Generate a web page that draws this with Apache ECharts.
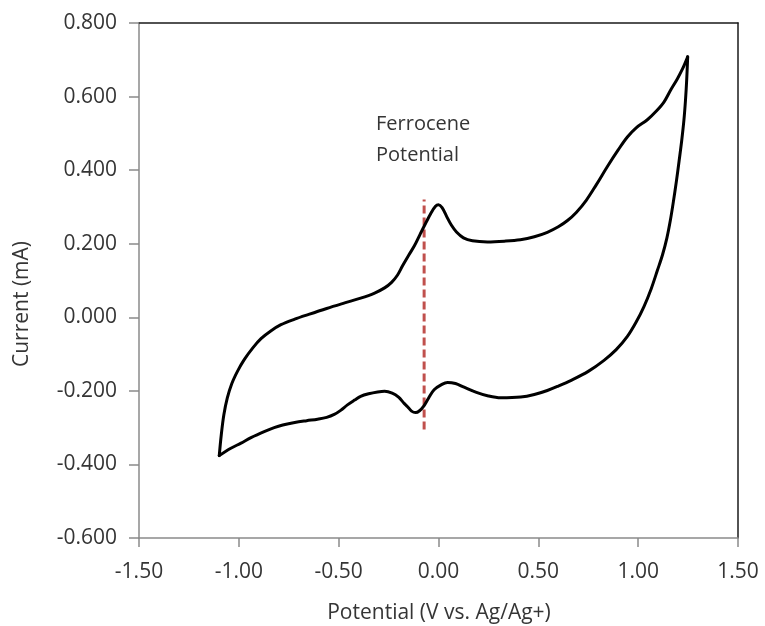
<!DOCTYPE html>
<html>
<head>
<meta charset="utf-8">
<script src="https://cdn.jsdelivr.net/npm/echarts@6/dist/echarts.min.js"></script>
<style>
  html, body { margin: 0; padding: 0; background: #fff; }
  #chart { width: 765px; height: 626px; }
</style>
</head>
<body>
<div id="chart"></div>
<script>
// Cyclic voltammogram: anodic sweep (left to right) and cathodic sweep (right to left)
const forwardScan = [
  [-1.098, -0.376], [-1.088, -0.32], [-1.075, -0.265], [-1.058, -0.22],
  [-1.035, -0.18], [-1.005, -0.145], [-0.973, -0.115], [-0.93, -0.083],
  [-0.889, -0.058], [-0.84, -0.037], [-0.789, -0.02], [-0.72, -0.005],
  [-0.65, 0.008], [-0.56, 0.024], [-0.47, 0.039], [-0.39, 0.052],
  [-0.32, 0.066], [-0.27, 0.08], [-0.235, 0.095], [-0.205, 0.115],
  [-0.18, 0.14], [-0.15, 0.168], [-0.12, 0.195], [-0.09, 0.228],
  [-0.065, 0.255], [-0.038, 0.283], [-0.015, 0.302], [0.0, 0.306],
  [0.018, 0.298], [0.04, 0.275], [0.065, 0.25], [0.09, 0.232],
  [0.125, 0.216], [0.17, 0.208], [0.245, 0.205], [0.33, 0.207],
  [0.41, 0.211], [0.48, 0.219], [0.545, 0.231], [0.6, 0.246],
  [0.646, 0.263], [0.69, 0.285], [0.74, 0.318], [0.79, 0.36],
  [0.846, 0.41], [0.9, 0.455], [0.946, 0.49], [0.99, 0.515],
  [1.046, 0.537], [1.09, 0.56], [1.129, 0.585], [1.165, 0.62],
  [1.196, 0.648], [1.222, 0.675], [1.248, 0.708]
];

const reverseScan = [
  [1.248, 0.708], [1.243, 0.645], [1.237, 0.59], [1.229, 0.535],
  [1.218, 0.48], [1.205, 0.425], [1.191, 0.368], [1.176, 0.313],
  [1.161, 0.263], [1.144, 0.216], [1.122, 0.17], [1.096, 0.127],
  [1.065, 0.077], [1.029, 0.029], [0.99, -0.013], [0.946, -0.052],
  [0.89, -0.088], [0.829, -0.117], [0.75, -0.147], [0.662, -0.172],
  [0.6, -0.187], [0.545, -0.199], [0.48, -0.21], [0.412, -0.217],
  [0.312, -0.219], [0.25, -0.214], [0.19, -0.204], [0.128, -0.19],
  [0.085, -0.18], [0.045, -0.177], [0.015, -0.183], [-0.022, -0.197],
  [-0.05, -0.22], [-0.072, -0.24], [-0.095, -0.254], [-0.115, -0.259],
  [-0.135, -0.255], [-0.155, -0.243], [-0.172, -0.234], [-0.2, -0.217],
  [-0.232, -0.206], [-0.27, -0.201], [-0.305, -0.203], [-0.35, -0.208],
  [-0.39, -0.215], [-0.42, -0.225], [-0.456, -0.238], [-0.49, -0.253],
  [-0.522, -0.264], [-0.56, -0.272], [-0.606, -0.277], [-0.66, -0.281],
  [-0.72, -0.286], [-0.78, -0.293], [-0.823, -0.3], [-0.87, -0.31],
  [-0.939, -0.327], [-0.989, -0.342], [-1.04, -0.356], [-1.098, -0.376]
];

// Formal potential marker (V) and its vertical span (mA)
const ferroceneE = -0.072;
const markerSpan = [-0.305, 0.32];

const xTicks = { min: -1.5, max: 1.5, step: 0.5 };
const yTicks = { min: -0.6, max: 0.8, step: 0.2 };

const FONT = '"Open Sans", "Noto Sans", sans-serif';
const TEXT = '#353535';
const AXIS = '#8a8a8a';

const chart = echarts.init(document.getElementById('chart'), null, { renderer: 'canvas' });

chart.setOption({
  animation: false,
  backgroundColor: '#ffffff',
  grid: { left: 139, right: 27, top: 23, bottom: 88, containLabel: false },
  xAxis: [
    {
      type: 'value', min: xTicks.min, max: xTicks.max, interval: xTicks.step,
      axisLine: { show: true, onZero: false, lineStyle: { color: AXIS, width: 1.5 } },
      axisTick: { show: true, length: 9, inside: false, lineStyle: { color: AXIS, width: 1.5 } },
      splitLine: { show: false },
      axisLabel: {
        margin: 24, color: TEXT, fontFamily: FONT, fontSize: 21,
        formatter: v => v.toFixed(2)
      }
    },
    {
      type: 'value', position: 'top', min: xTicks.min, max: xTicks.max,
      axisLine: { show: true, onZero: false, lineStyle: { color: '#1a1a1a', width: 1.5 } },
      axisTick: { show: false }, axisLabel: { show: false }, splitLine: { show: false }
    }
  ],
  yAxis: [
    {
      type: 'value', min: yTicks.min, max: yTicks.max, interval: yTicks.step,
      axisLine: { show: true, onZero: false, lineStyle: { color: AXIS, width: 1.5 } },
      axisTick: { show: true, length: 10, inside: false, lineStyle: { color: AXIS, width: 1.5 } },
      splitLine: { show: false },
      axisLabel: {
        margin: 22, color: TEXT, fontFamily: FONT, fontSize: 21,
        formatter: v => v.toFixed(3)
      }
    },
    {
      type: 'value', position: 'right', min: yTicks.min, max: yTicks.max,
      axisLine: { show: true, onZero: false, lineStyle: { color: '#1a1a1a', width: 1.5 } },
      axisTick: { show: false }, axisLabel: { show: false }, splitLine: { show: false }
    }
  ],
  graphic: [
    {
      type: 'text', x: 439, y: 613,
      style: {
        text: 'Potential (V vs. Ag/Ag+)', fill: TEXT, font: '21px ' + FONT,
        align: 'center', verticalAlign: 'middle'
      }
    },
    {
      type: 'text', x: 22, y: 304, rotation: Math.PI / 2,
      style: {
        text: 'Current (mA)', fill: TEXT, font: '21px ' + FONT,
        align: 'center', verticalAlign: 'middle'
      }
    },
    {
      type: 'text', left: 376, top: 109,
      style: {
        text: 'Ferrocene\nPotential', fill: TEXT, font: '20px ' + FONT,
        lineHeight: 31
      }
    }
  ],
  series: [
    {
      name: 'Ferrocene potential', type: 'line', xAxisIndex: 0, yAxisIndex: 0,
      data: [[ferroceneE, markerSpan[0]], [ferroceneE, markerSpan[1]]],
      showSymbol: false, silent: true, z: 1,
      lineStyle: { color: '#C0504D', width: 3, type: [8, 4] }
    },
    {
      name: 'Anodic sweep', type: 'line', xAxisIndex: 0, yAxisIndex: 0,
      data: forwardScan, smooth: 0.35, showSymbol: false, z: 3,
      lineStyle: { color: '#000000', width: 3, cap: 'round', join: 'round' }
    },
    {
      name: 'Cathodic sweep', type: 'line', xAxisIndex: 0, yAxisIndex: 0,
      data: reverseScan, smooth: 0.35, showSymbol: false, z: 3,
      lineStyle: { color: '#000000', width: 3, cap: 'round', join: 'round' }
    }
  ]
});
</script>
</body>
</html>
